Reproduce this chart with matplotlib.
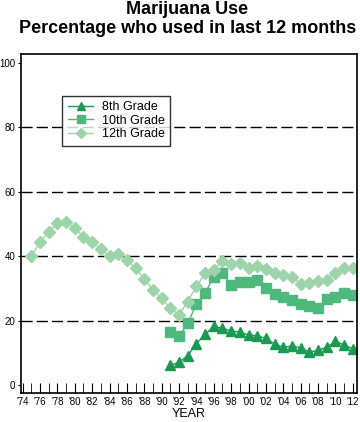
import matplotlib
matplotlib.use("Agg")
import matplotlib.pyplot as plt

plt.rcParams['font.family'] = ['Liberation Sans', 'DejaVu Sans']

years_12 = list(range(1975, 2013))
grade12 = [40.0, 44.5, 47.6, 50.2, 50.8, 48.8, 46.1, 44.3, 42.3, 40.0,
           40.6, 38.8, 36.3, 33.1, 29.6, 27.0, 23.9, 21.9, 26.0, 30.7,
           34.7, 35.8, 38.5, 37.5, 37.8, 36.5, 37.0, 36.2, 34.9, 34.3,
           33.6, 31.5, 31.7, 32.4, 32.8, 34.8, 36.4, 36.4]

years_8_10 = list(range(1991, 2013))
grade10 = [16.5, 15.2, 19.2, 25.2, 28.7, 33.6, 34.8, 31.1, 32.1, 32.2,
           32.7, 30.3, 28.2, 27.5, 26.6, 25.2, 24.6, 23.9, 26.7, 27.5,
           28.8, 28.0]
grade8 = [6.2, 7.2, 9.2, 13.0, 15.8, 18.3, 17.7, 16.9, 16.5, 15.6,
          15.4, 14.6, 12.8, 11.8, 12.2, 11.7, 10.3, 10.9, 11.8, 13.7,
          12.5, 11.4]

tick_years = list(range(1974, 2013, 2))
tick_labels = ["'" + str(y)[2:] for y in tick_years]

fig = plt.figure(figsize=(3.6, 4.22), dpi=100)
ax = fig.add_axes([0.058, 0.069, 0.934, 0.803])

ax.plot(years_8_10, grade8, color='#1a9a50', marker='^', markersize=7,
        linewidth=1, label='8th Grade')
ax.plot(years_8_10, grade10, color='#4fb87c', marker='s', markersize=7,
        linewidth=1, label='10th Grade')
ax.plot(years_12, grade12, color='#9dd4aa', marker='D', markersize=6,
        linewidth=1, label='12th Grade')

for y in [20, 40, 60, 80]:
    ax.axhline(y, color='black', linewidth=1, dashes=(8, 3), zorder=0)

ax.set_xlim(1973.8, 2012.5)
ax.set_ylim(-2.3, 102.7)
ax.set_yticks([0, 20, 40, 60, 80, 100])
ax.set_xticks(tick_years)
ax.set_xticklabels(tick_labels)
ax.set_xticks(range(1974, 2013), minor=True)
ax.tick_params(axis='x', direction='in', length=7, labelsize=7, pad=3)
ax.tick_params(axis='x', which='minor', direction='in', length=7)
ax.tick_params(axis='y', direction='out', length=2.5, labelsize=7, pad=1.5)
for s in ax.spines.values():
    s.set_linewidth(1.2)
ax.set_xlabel('YEAR', fontsize=9, labelpad=1)

fig.suptitle('Marijuana Use\nPercentage who used in last 12 months',
             fontsize=13, fontweight='bold', x=0.52, y=0.997, linespacing=1.1)

leg = ax.legend(loc='upper left', bbox_to_anchor=(0.105, 0.895), fontsize=9,
                frameon=True, fancybox=False, edgecolor='black',
                handlelength=2, handletextpad=0.7, borderpad=0.45,
                labelspacing=0.1, markerscale=0.8)
leg.get_frame().set_linewidth(1)

fig.savefig('out.png', dpi=100)
